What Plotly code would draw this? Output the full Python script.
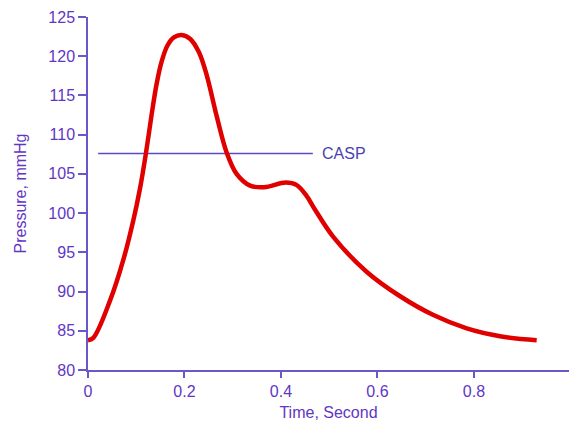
import plotly.graph_objects as go

time_s = [0, 0.011, 0.046, 0.073, 0.094, 0.108, 0.120, 0.132, 0.142, 0.153, 0.165, 0.178,
          0.194, 0.212, 0.230, 0.246, 0.267, 0.287, 0.308, 0.336, 0.365, 0.410, 0.432,
          0.453, 0.470, 0.508, 0.578, 0.647, 0.716, 0.785, 0.854, 0.93]
pressure = [83.8, 84.1, 88.9, 94.0, 99.1, 103.2, 107.6, 112.6, 116.4, 119.4, 121.4, 122.4,
            122.7, 122.2, 120.5, 117.6, 112.3, 107.8, 105.0, 103.5, 103.3, 103.9, 103.6,
            102.2, 100.5, 97.0, 92.5, 89.4, 87.0, 85.3, 84.3, 83.8]

casp_x = [0.021, 0.466]
casp_value = 107.6
casp_label = "CASP"

x_ticks = [0, 0.2, 0.4, 0.6, 0.8, 1.0]
x_ticklabels = ["0", "0.2", "0.4", "0.6", "0.8", "1"]
y_ticks = [80, 85, 90, 95, 100, 105, 110, 115, 120, 125]

purple = "#6236c4"
axis_col = "#6a58c8"

fig = go.Figure()
fig.add_trace(go.Scatter(x=casp_x, y=[casp_value, casp_value], mode="lines",
                         line=dict(color="#5a4cc0", width=1.3), hoverinfo="skip"))
fig.add_trace(go.Scatter(x=time_s, y=pressure, mode="lines",
                         line=dict(color="#e00000", width=4.5, shape="spline", smoothing=1.0)))
fig.add_annotation(x=casp_x[1], y=casp_value, text=casp_label, showarrow=False,
                   xanchor="left", yanchor="middle", xshift=7,
                   font=dict(family="Liberation Sans, Arial", size=16, color="#4a3fb0"))

fig.update_layout(
    width=569, height=426, showlegend=False,
    paper_bgcolor="white", plot_bgcolor="white",
    margin=dict(l=88, r=0, t=17, b=56),
    font=dict(family="Liberation Sans, Arial", size=16, color=purple),
    xaxis=dict(range=[0, 0.997], tickvals=x_ticks, ticktext=x_ticklabels,
               showline=True, linecolor=axis_col, linewidth=1.5, ticks="outside",
               tickcolor=axis_col, ticklen=6, tickwidth=1.5, showgrid=False, zeroline=False,
               title=dict(text="Time, Second", font=dict(size=16, color=purple), standoff=8),
               tickfont=dict(size=16, color=purple)),
    yaxis=dict(range=[80, 125], tickvals=y_ticks,
               showline=True, linecolor=axis_col, linewidth=1.5, ticks="outside",
               tickcolor=axis_col, ticklen=8, tickwidth=1.5, showgrid=False, zeroline=False,
               title=dict(text="Pressure, mmHg", font=dict(size=16, color=purple), standoff=18),
               tickfont=dict(size=16, color=purple)),
)
fig.write_html("out.html")
